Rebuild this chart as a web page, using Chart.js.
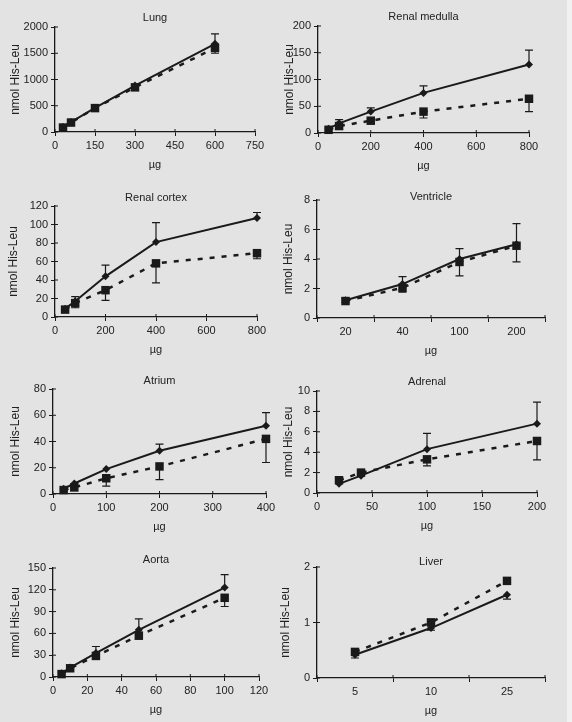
<!DOCTYPE html>
<html>
<head>
<meta charset="utf-8">
<script src="https://cdn.jsdelivr.net/npm/chart.js@4.4.1/dist/chart.umd.min.js"></script>
<style>
html, body { margin: 0; padding: 0; }
body { width: 572px; height: 722px; background: #e3e3e3; position: relative; overflow: hidden; }
#edge { position: absolute; left: 567px; top: 0; width: 5px; height: 722px; background: #f1f1f1; }
canvas { position: absolute; }
</style>
</head>
<body>
<div id="edge"></div>
<script>
// values; "a" = solid line / diamonds, "b" = dashed line / squares
const lungX = [30, 60, 150, 300, 600];
const lungA = [95, 190, 460, 885, 1680];
const lungAUp = [null, null, null, null, 1870];
const lungB = [85, 180, 455, 850, 1600];
const lungBDown = [null, null, null, null, 1500];

const medullaX = [40, 80, 200, 400, 800];
const medullaA = [8, 18, 40, 75, 128];
const medullaAUp = [null, 25, 47, 88, 155];
const medullaB = [6, 13, 23, 40, 64];
const medullaBDown = [null, null, null, 28, 40];

const cortexX = [40, 80, 200, 400, 800];
const cortexA = [9, 17, 44, 81, 107];
const cortexAUp = [null, 22, 56, 102, 113];
const cortexB = [8, 15, 29, 58, 69];
const cortexBDown = [null, 10, 18, 37, 63];

const ventricleCats = ['20', '40', '100', '200'];
const ventricleA = [1.2, 2.3, 4.0, 5.0];
const ventricleAUp = [1.35, 2.8, 4.7, 6.4];
const ventricleB = [1.15, 2.05, 3.8, 4.9];
const ventricleBDown = [1.05, 1.75, 2.85, 3.8];

const atriumX = [20, 40, 100, 200, 400];
const atriumA = [4, 8, 19, 33, 52];
const atriumAUp = [null, null, null, 38, 62];
const atriumB = [3, 5, 12, 21, 42];
const atriumBDown = [null, null, 6, 11, 24];

const adrenalX = [20, 40, 100, 200];
const adrenalA = [0.9, 1.7, 4.3, 6.8];
const adrenalAUp = [null, null, 5.85, 8.9];
const adrenalB = [1.25, 2.0, 3.3, 5.1];
const adrenalBDown = [null, null, 2.65, 3.25];

const aortaX = [5, 10, 25, 50, 100];
const aortaA = [5, 13, 33, 65, 123];
const aortaAUp = [null, null, 42, 80, 141];
const aortaB = [4, 12, 29, 57, 109];
const aortaBDown = [null, null, null, 52, 97];

const liverCats = ['5', '10', '25'];
const liverA = [0.42, 0.9, 1.5];
const liverADown = [0.36, 0.86, 1.42];
const liverB = [0.47, 1.0, 1.75];
const liverBUp = [0.5, 1.06, null];

const INK = '#1a1a1a';
Chart.defaults.font.family = '"Liberation Sans", Arial, sans-serif';
Chart.defaults.font.size = 11;
Chart.defaults.color = '#222';

// panel frames (plot area edges in page pixels)
const panels = [
  { title: 'Lung', L: 55, R: 255, T: 27, B: 132, titleY: 18, yOff: 40,
    xr: [0, 750, 150], yr: [0, 2000, 500], xs: lungX,
    a: lungA, aUp: lungAUp, b: lungB, bDown: lungBDown },
  { title: 'Renal medulla', L: 318, R: 529, T: 26, B: 133, titleY: 17, yOff: 29,
    xr: [0, 800, 200], yr: [0, 200, 50], xs: medullaX,
    a: medullaA, aUp: medullaAUp, b: medullaB, bDown: medullaBDown },
  { title: 'Renal cortex', L: 55, R: 257, T: 206, B: 317, titleY: 198, yOff: 42,
    xr: [0, 800, 200], yr: [0, 120, 20], xs: cortexX,
    a: cortexA, aUp: cortexAUp, b: cortexB, bDown: cortexBDown },
  { title: 'Ventricle', L: 317, R: 545, T: 200, B: 318, titleY: 197, yOff: 29,
    cats: ventricleCats, yr: [0, 8, 2],
    a: ventricleA, aUp: ventricleAUp, b: ventricleB, bDown: ventricleBDown },
  { title: 'Atrium', L: 53, R: 266, T: 389, B: 494, titleY: 381, yOff: 38,
    xr: [0, 400, 100], yr: [0, 80, 20], xs: atriumX,
    a: atriumA, aUp: atriumAUp, b: atriumB, bDown: atriumBDown },
  { title: 'Adrenal', L: 317, R: 537, T: 391, B: 493, titleY: 382, yOff: 29,
    xr: [0, 200, 50], yr: [0, 10, 2], xs: adrenalX,
    a: adrenalA, aUp: adrenalAUp, b: adrenalB, bDown: adrenalBDown },
  { title: 'Aorta', L: 53, R: 259, T: 568, B: 677, titleY: 560, yOff: 38,
    xr: [0, 120, 20], yr: [0, 150, 30], xs: aortaX,
    a: aortaA, aUp: aortaAUp, b: aortaB, bDown: aortaBDown },
  { title: 'Liver', L: 317, R: 545, T: 567, B: 678, titleY: 562, yOff: 32,
    cats: liverCats, yr: [0, 2, 1],
    a: liverA, aDown: liverADown, b: liverB, bUp: liverBUp }
];

const PT = 22, PR = 14, XH = 44;
const plainNum = v => String(v);

// error bars, inner tick marks and panel title
const decor = {
  id: 'decor',
  afterDatasetsDraw(chart, args, opts) {
    const ctx = chart.ctx, xs = chart.scales.x, ys = chart.scales.y, ca = chart.chartArea;
    ctx.save();
    ctx.strokeStyle = INK;
    ctx.lineWidth = 1.2;
    chart.data.datasets.forEach((ds, di) => {
      const meta = chart.getDatasetMeta(di);
      meta.data.forEach((pt, i) => {
        [ds.errUp, ds.errDown].forEach(arr => {
          const v = arr ? arr[i] : null;
          if (v == null) return;
          const py = ys.getPixelForValue(v);
          ctx.beginPath();
          ctx.moveTo(pt.x, pt.y);
          ctx.lineTo(pt.x, py);
          ctx.moveTo(pt.x - 4, py);
          ctx.lineTo(pt.x + 4, py);
          ctx.stroke();
        });
      });
    });
    ctx.lineWidth = 1;
    ys.ticks.forEach((t, i) => {
      const p = ys.getPixelForTick(i);
      ctx.beginPath(); ctx.moveTo(ca.left, p); ctx.lineTo(ca.left + 3, p); ctx.stroke();
    });
    if (xs.type === 'category') {
      for (let i = 0; i <= xs.ticks.length; i++) {
        const p = xs.getPixelForValue(i - 0.5);
        ctx.beginPath(); ctx.moveTo(p, ca.bottom); ctx.lineTo(p, ca.bottom - 3); ctx.stroke();
      }
    } else {
      xs.ticks.forEach((t, i) => {
        const p = xs.getPixelForTick(i);
        ctx.beginPath(); ctx.moveTo(p, ca.bottom); ctx.lineTo(p, ca.bottom - 3); ctx.stroke();
      });
    }
    ctx.fillStyle = '#222';
    ctx.font = '11px "Liberation Sans", Arial, sans-serif';
    ctx.textAlign = 'center';
    ctx.textBaseline = 'middle';
    ctx.fillText(opts.text, (ca.left + ca.right) / 2, opts.y);
    ctx.restore();
  }
};

panels.forEach(p => {
  const yw = p.yOff + 12;
  const left = p.L - yw, top = p.T - PT;
  const w = (p.R - p.L) + yw + PR, h = (p.B - p.T) + PT + XH;
  const cv = document.createElement('canvas');
  cv.width = w; cv.height = h;
  cv.style.left = left + 'px'; cv.style.top = top + 'px';
  document.body.appendChild(cv);

  const isCat = !!p.cats;
  const toData = arr => isCat ? arr : p.xs.map((x, i) => ({ x: x, y: arr[i] }));
  const axisGrid = { drawOnChartArea: false, tickLength: 4, color: INK, lineWidth: 1 };
  const axisBorder = { color: INK, width: 1.3 };

  const xScale = isCat
    ? { type: 'category', labels: p.cats, offset: true,
        grid: Object.assign({ offset: true }, axisGrid), border: axisBorder,
        ticks: { color: '#222', padding: 3 } }
    : { type: 'linear', min: p.xr[0], max: p.xr[1],
        grid: axisGrid, border: axisBorder,
        ticks: { stepSize: p.xr[2], color: '#222', padding: 3, callback: plainNum } };
  xScale.title = { display: true, text: 'µg', color: '#222', padding: { top: 0, bottom: 4 } };
  xScale.afterFit = s => { s.height = XH; };

  new Chart(cv, {
    type: 'line',
    data: {
      datasets: [
        { data: toData(p.a), errUp: p.aUp, errDown: p.aDown, clip: false,
          borderColor: INK, backgroundColor: INK, borderWidth: 2,
          pointStyle: 'rectRot', pointRadius: 4, pointBorderWidth: 0, tension: 0 },
        { data: toData(p.b), errUp: p.bUp, errDown: p.bDown, clip: false,
          borderColor: INK, backgroundColor: INK, borderWidth: 2.5, borderDash: [5, 7],
          pointStyle: 'rect', pointRadius: 6, pointBorderWidth: 0, tension: 0 }
      ]
    },
    options: {
      responsive: false,
      animation: false,
      layout: { padding: { top: PT, right: PR, left: 0, bottom: 0 } },
      plugins: {
        legend: { display: false },
        tooltip: { enabled: false },
        decor: { text: p.title, y: p.titleY - top }
      },
      scales: {
        x: xScale,
        y: {
          min: p.yr[0], max: p.yr[1],
          grid: axisGrid, border: axisBorder,
          ticks: { stepSize: p.yr[2], color: '#222', padding: 3, callback: plainNum },
          title: { display: true, text: 'nmol His-Leu', color: '#222',
                   font: { size: 12 }, padding: { top: 5, bottom: 0 } },
          afterFit: s => { s.width = yw; }
        }
      }
    },
    plugins: [decor]
  });
});
</script>
</body>
</html>
